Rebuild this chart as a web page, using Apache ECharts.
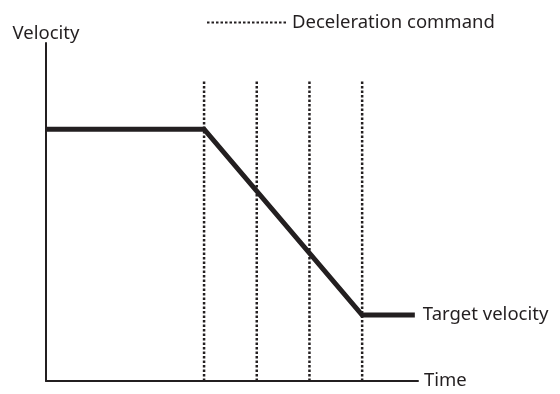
<!DOCTYPE html>
<html>
<head>
<meta charset="utf-8">
<script src="https://cdn.jsdelivr.net/npm/echarts@6/dist/echarts.min.js"></script>
<style>
  html, body { margin: 0; padding: 0; background: #fff; }
  #chart { width: 560px; height: 394px; }
</style>
</head>
<body>
<div id="chart"></div>
<script>
// velocity profile (time, velocity) in arbitrary units
var profileTime = [0, 3, 6, 7]
var profileVelocity = [7.45, 7.45, 1.95, 1.95]
// times at which a deceleration command is issued
var commandTimes = [3, 4, 5, 6]
var commandTop = 8.9

var ink = '#231f20'
var font = 'Noto Sans'
var fontSize = 18.5

var chart = echarts.init(document.getElementById('chart'))

var profileData = []
for (var i = 0; i < profileTime.length; i++) {
  profileData.push([profileTime[i], profileVelocity[i]])
}

var series = []
// dotted command lines
for (var j = 0; j < commandTimes.length; j++) {
  series.push({
    name: 'Deceleration command',
    type: 'line',
    symbol: 'none',
    silent: true,
    z: 1,
    itemStyle: { color: ink },
    lineStyle: { color: ink, width: 2.5, type: [2.5, 2] },
    data: [[commandTimes[j], 0], [commandTimes[j], commandTop]]
  })
}
// velocity profile
series.push({
  name: 'Velocity',
  type: 'line',
  symbol: 'none',
  z: 5,
  itemStyle: { color: ink },
  lineStyle: { color: ink, width: 5, join: 'miter' },
  endLabel: {
    show: true,
    formatter: 'Target velocity',
    color: ink,
    fontFamily: font,
    fontSize: fontSize,
    distance: 8
  },
  data: profileData
})

var option = {
  animation: false,
  backgroundColor: '#fff',
  legend: {
    data: ['Deceleration command'],
    left: 201,
    top: 8,
    itemWidth: 80,
    itemHeight: 10,
    itemGap: 7,
    itemStyle: { color: 'rgba(0,0,0,0)', borderWidth: 0 },
    textStyle: { color: ink, fontFamily: font, fontSize: fontSize }
  },
  grid: { left: 46, top: 43, width: 372, height: 338 },
  xAxis: {
    type: 'value',
    min: 0,
    max: 7.06,
    name: 'Time',
    nameLocation: 'end',
    nameGap: 6,
    nameTextStyle: { color: ink, fontFamily: font, fontSize: fontSize },
    axisLine: { lineStyle: { color: ink, width: 2 } },
    axisTick: { show: false },
    axisLabel: { show: false },
    splitLine: { show: false }
  },
  yAxis: {
    type: 'value',
    min: 0,
    max: 10,
    name: 'Velocity',
    nameLocation: 'end',
    nameGap: 0,
    nameTextStyle: { color: ink, fontFamily: font, fontSize: fontSize },
    axisLine: { show: true, lineStyle: { color: ink, width: 2 } },
    axisTick: { show: false },
    axisLabel: { show: false },
    splitLine: { show: false }
  },
  series: series
}

chart.setOption(option)
</script>
</body>
</html>
